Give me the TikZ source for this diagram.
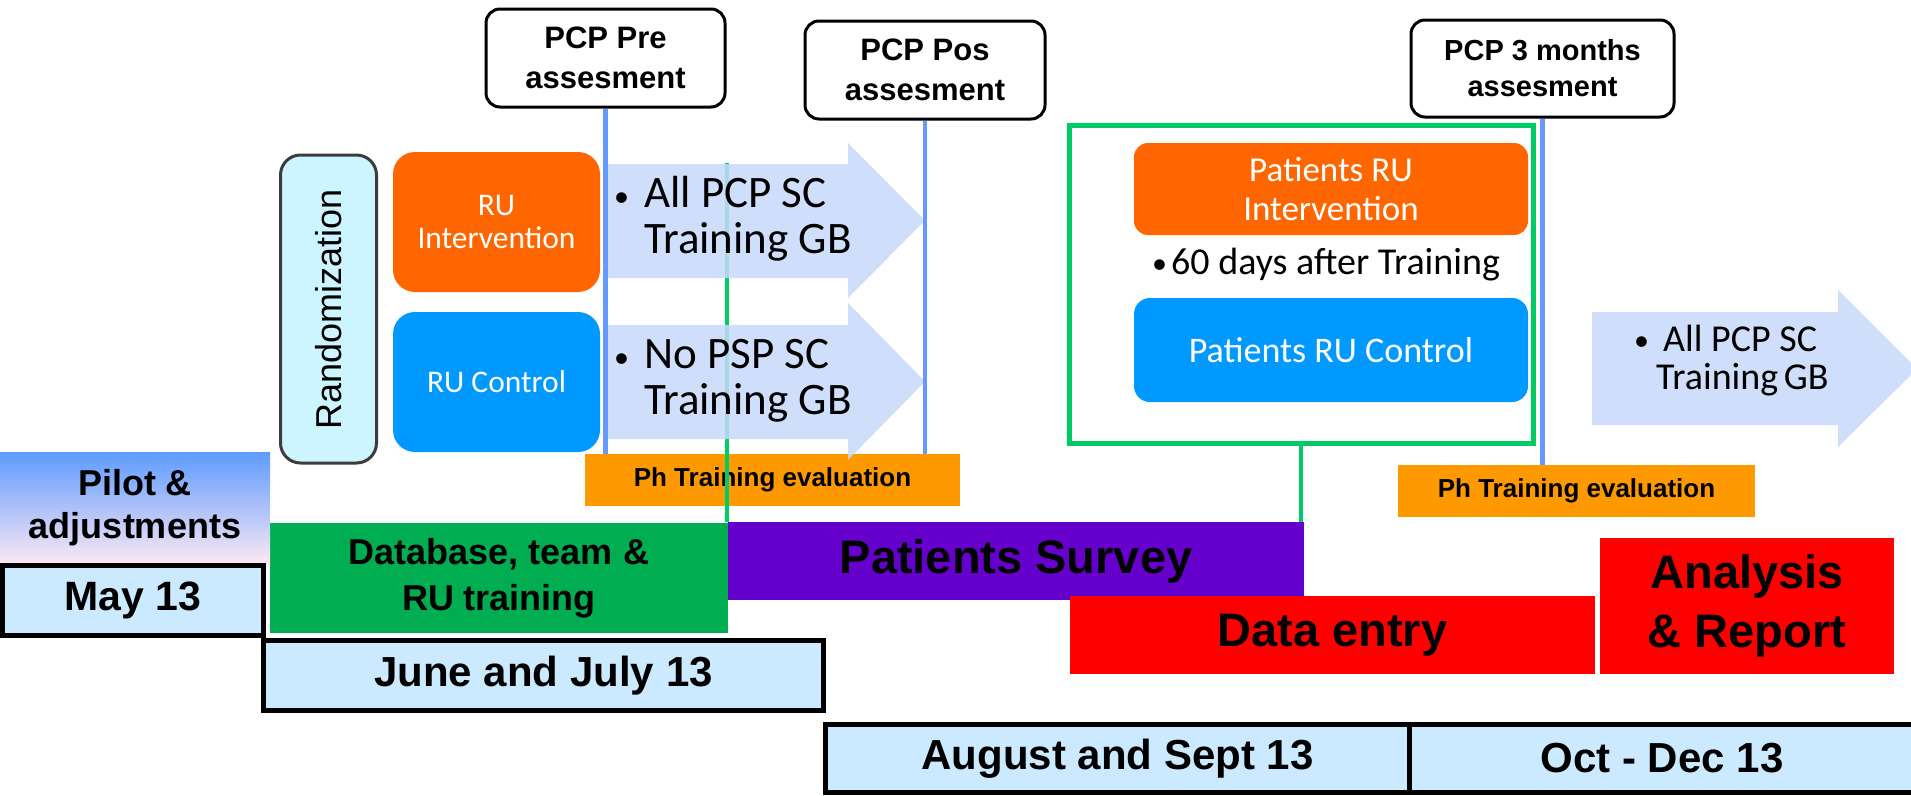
\documentclass[tikz,border=0pt]{standalone}
\usepackage{fontspec}
\setmainfont{Liberation Sans}
\newfontfamily\calfont{Carlito}
\definecolor{ruorange}{RGB}{255,102,0}
\definecolor{rublue}{RGB}{0,153,255}
\definecolor{arrowfill}{RGB}{199,217,251}
\definecolor{lineblue}{RGB}{102,153,255}
\definecolor{boxgreen}{RGB}{0,204,102}
\definecolor{dbgreen}{RGB}{0,173,80}
\definecolor{surveyviolet}{RGB}{102,0,204}
\definecolor{phorange}{RGB}{255,153,0}
\definecolor{monthblue}{RGB}{204,234,255}
\definecolor{randfill}{RGB}{204,245,255}
\definecolor{randedge}{RGB}{60,60,60}
\definecolor{pilottop}{RGB}{94,155,255}
\definecolor{pilotmid}{RGB}{190,205,245}
\definecolor{pilotbot}{RGB}{253,232,244}
\newcommand{\smallbul}{{\fontsize{30}{30}\selectfont\raisebox{1pt}{•}}}
\begin{document}
\begin{tikzpicture}[x=1pt,y=-1pt,
  pcp/.style={draw=black, line width=3pt, rounded corners=14pt, fill=white, inner sep=0pt, align=center, font=\bfseries\fontsize{31}{40}\selectfont},
  rubox/.style={rounded corners=22pt, inner sep=0pt, align=center, text=white, font=\calfont\fontsize{31.5}{33}\selectfont},
  month/.style={draw=black, line width=5pt, fill=monthblue, inner sep=0pt, font=\bfseries\fontsize{42}{50}\selectfont},
  bar/.style={inner sep=0pt, align=center, font=\bfseries\fontsize{47}{59}\selectfont},
  phbox/.style={fill=phorange, inner sep=0pt, font=\bfseries\fontsize{26}{30}\selectfont},
  vline/.style={draw=lineblue, line width=4.5pt},
  gline/.style={draw=boxgreen, line width=4.5pt},
  arrowshape/.style={fill=arrowfill, fill opacity=0.85},
  bultext/.style={inner sep=0pt, align=left, font=\calfont\fontsize{45}{46}\selectfont}
]
\useasboundingbox (0,0) rectangle (1911,795);
\fill[white] (0,0) rectangle (1911,795);
\begin{scope}
\clip (0,0) rectangle (1911,795);

% assessment boxes
\node[pcp, minimum width=239pt, minimum height=98pt] (pre) at (605.5,58) {PCP Pre\\assesment};
\node[pcp, minimum width=240pt, minimum height=98pt] (pos) at (925,70) {PCP Pos\\assesment};
\node[pcp, minimum width=263pt, minimum height=97pt, font=\bfseries\fontsize{29}{36}\selectfont] (three) at (1542.5,68.5) {PCP 3 months\\assesment};

% orange evaluation boxes
\node[phbox, minimum width=375pt, minimum height=52pt] (ph1) at (772.5,480) {Ph Training evaluation};
\node[phbox, minimum width=357pt, minimum height=52pt] (ph2) at (1576.5,491) {Ph Training evaluation};

% activity bars
\node[bar, fill=dbgreen, minimum width=458pt, minimum height=110pt, font=\bfseries\fontsize{36}{46}\selectfont] (db) at (499,578) {Database, team \&\\RU training};
\node[bar, fill=surveyviolet, minimum width=576pt, minimum height=78pt] (survey) at (1016,561) {Patients Survey};
\node[bar, fill=red, minimum width=525pt, minimum height=78pt] (dentry) at (1332.5,635) {Data entry};
\node[bar, fill=red, minimum width=294pt, minimum height=136pt] (analysis) at (1747,606) {Analysis\\\& Report};
\node[bar, top color=pilottop, middle color=pilotmid, bottom color=pilotbot, minimum width=270pt, minimum height=112pt, font=\bfseries\fontsize{36}{43}\selectfont] (pilot) at (135,508) {Pilot \&\\adjustments};

% months
\node[month, minimum width=261pt, minimum height=70pt, font=\bfseries\fontsize{41}{50}\selectfont] (may) at (132.5,600) {May 13};
\node[month, minimum width=560pt, minimum height=70pt] (june) at (543.5,675.5) {June and July 13};
\node[month, minimum width=584pt, minimum height=68pt] (aug) at (1117.5,758.5) {August and Sept 13};
\node[month, minimum width=505pt, minimum height=68pt] (oct) at (1662,758.5) {Oct - Dec 13};

% randomization
\node[draw=randedge, line width=3pt, fill=randfill, rounded corners=20pt, minimum width=96pt, minimum height=308pt, inner sep=0pt] (rand) at (328.5,309) {};
\node[rotate=90, inner sep=0pt, font=\fontsize{36}{40}\selectfont, text=black] (randtext) at (rand.center) {Randomization};

\node[rubox, fill=ruorange, minimum width=207pt, minimum height=140pt] (ruint) at (496.5,222) {RU\\Intervention};
\node[rubox, fill=rublue, minimum width=207pt, minimum height=140pt] (ructl) at (496.5,382) {RU Control};

% green line behind arrows
\coordinate (gtop) at (727,163);
\draw[gline] (gtop) -- (gtop |- survey.north);

% arrows
\fill[arrowshape] (606,164) -- (848,164) -- (848,143) -- (925,220.5) -- (848,298) -- (848,278) -- (606,278) -- cycle;
\fill[arrowshape] (606,325) -- (848,325) -- (848,303) -- (925,381.5) -- (848,460) -- (848,439) -- (606,439) -- cycle;
\fill[arrowshape] (1592,312) -- (1838,312) -- (1838,290) -- (1917,369) -- (1838,447) -- (1838,425) -- (1592,425) -- cycle;

\node[bultext, anchor=base west] (ta) at (614,253) {\makebox[30pt][l]{\smallbul}All PCP SC\\\hspace*{30pt}Training GB};
\node[bultext, anchor=base west] (tb) at (614,414) {\makebox[30pt][l]{\smallbul}No PSP SC\\\hspace*{30pt}Training GB};
\node[bultext, anchor=base west, font=\calfont\fontsize{38}{38}\selectfont] (tc) at (1634,389) {\makebox[29pt][l]{\smallbul}All PCP SC\\\hspace*{22pt}Training\kern-3pt\ GB};

% blue assessment lines
\draw[vline] (pre.south) -- (pre.south |- ph1.north);
\draw[vline] (pos.south) -- (pos.south |- ph1.north);
\draw[vline] (three.south) -- (three.south |- ph2.north);

% patients box
\node[draw=boxgreen, line width=5pt, minimum width=464pt, minimum height=318pt, inner sep=0pt] (gbox) at (1301,284) {};
\draw[gline] (gbox.south) -- (gbox.south |- survey.north);
\node[rubox, fill=ruorange, rounded corners=14pt, minimum width=394pt, minimum height=92pt, font=\calfont\fontsize{35}{39}\selectfont] (prui) at (1331,189) {Patients RU\\Intervention};
\node[inner sep=0pt, anchor=base west, font=\calfont\fontsize{38}{40}\selectfont] (days) at (1152,274) {\makebox[19pt][l]{\smallbul}60 days after Training};
\node[rubox, fill=rublue, rounded corners=16pt, minimum width=394pt, minimum height=104pt, font=\calfont\fontsize{36}{40}\selectfont] (pruc) at (1331,350) {Patients RU Control};
\end{scope}
\end{tikzpicture}
\end{document}
